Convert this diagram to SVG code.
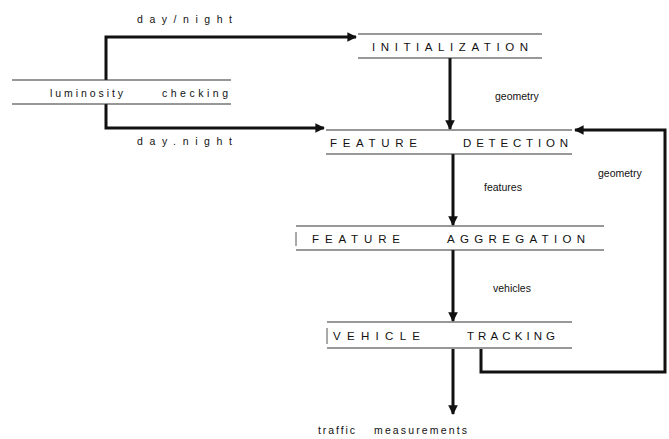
<svg xmlns="http://www.w3.org/2000/svg" width="669" height="439" viewBox="0 0 669 439">
<defs>
<marker id="ah" viewBox="0 0 10 10" refX="9" refY="5" markerWidth="3.2" markerHeight="3.2" orient="auto" markerUnits="strokeWidth">
<path d="M0,0 L10,5 L0,10 z" fill="#111"/>
</marker>
<style>
.box{stroke:#333;stroke-width:1.2;fill:none}
.tick{stroke:#555;stroke-width:1;fill:none}
.conn{stroke:#111;stroke-width:3;fill:none}
.cap{font-family:"Liberation Sans",Arial,sans-serif;font-size:11.5px;fill:#111}
.lab{font-family:"Liberation Sans",Arial,sans-serif;font-size:10.5px;fill:#111}
</style>
</defs>
<rect width="669" height="439" fill="#fff"/>
<g id="connectors">
<path class="conn" d="M106,80 V37 H356" marker-end="url(#ah)"/>
<path class="conn" d="M106,104 V128 H324" marker-end="url(#ah)"/>
<path class="conn" d="M450,58 V129" marker-end="url(#ah)"/>
<path class="conn" d="M453,154 V225" marker-end="url(#ah)"/>
<path class="conn" d="M453,250 V321" marker-end="url(#ah)"/>
<path class="conn" d="M453,349 V414" marker-end="url(#ah)"/>
<path class="conn" d="M481,349 V372 H665 V130 H575" marker-end="url(#ah)"/>
<text class="lab" x="137" y="23" textLength="95" lengthAdjust="spacing">day/night</text>
<text class="lab" x="137" y="145" textLength="95" lengthAdjust="spacing">day.night</text>
<text class="lab" x="495" y="100">geometry</text>
<text class="lab" x="598" y="177">geometry</text>
<text class="lab" x="484" y="191">features</text>
<text class="lab" x="493" y="292">vehicles</text>
<text class="lab" x="318" y="434" textLength="37" lengthAdjust="spacing">traffic</text>
<text class="lab" x="374" y="434" textLength="93" lengthAdjust="spacing">measurements</text>
</g>
<g id="luminosity">
<line class="box" x1="12" y1="80" x2="231" y2="80"/>
<line class="box" x1="12" y1="104" x2="231" y2="104"/>
<text class="lab" x="50" y="97" textLength="73" lengthAdjust="spacing">luminosity</text>
<text class="lab" x="162" y="97" textLength="66" lengthAdjust="spacing">checking</text>
</g>
<g id="initialization">
<line class="box" x1="358" y1="34" x2="542" y2="34"/>
<line class="box" x1="358" y1="58" x2="542" y2="58"/>
<text class="cap" x="372" y="51" textLength="156" lengthAdjust="spacing">INITIALIZATION</text>
</g>
<g id="feature-detection">
<line class="box" x1="326" y1="130" x2="572" y2="130"/>
<line class="box" x1="326" y1="154" x2="572" y2="154"/>
<text class="cap" x="330" y="147" textLength="87" lengthAdjust="spacing">FEATURE</text>
<text class="cap" x="463" y="147" textLength="105" lengthAdjust="spacing">DETECTION</text>
</g>
<g id="feature-aggregation">
<line class="box" x1="296" y1="226" x2="604" y2="226"/>
<line class="box" x1="296" y1="250" x2="604" y2="250"/>
<line class="tick" x1="296" y1="232" x2="296" y2="246"/>
<text class="cap" x="312" y="243" textLength="88" lengthAdjust="spacing">FEATURE</text>
<text class="cap" x="447" y="243" textLength="138" lengthAdjust="spacing">AGGREGATION</text>
</g>
<g id="vehicle-tracking">
<line class="box" x1="327" y1="322" x2="572" y2="322"/>
<line class="box" x1="327" y1="348" x2="572" y2="348"/>
<line class="tick" x1="327" y1="328" x2="327" y2="344"/>
<text class="cap" x="333" y="340" textLength="87" lengthAdjust="spacing">VEHICLE</text>
<text class="cap" x="467" y="340" textLength="88" lengthAdjust="spacing">TRACKING</text>
</g>
</svg>
